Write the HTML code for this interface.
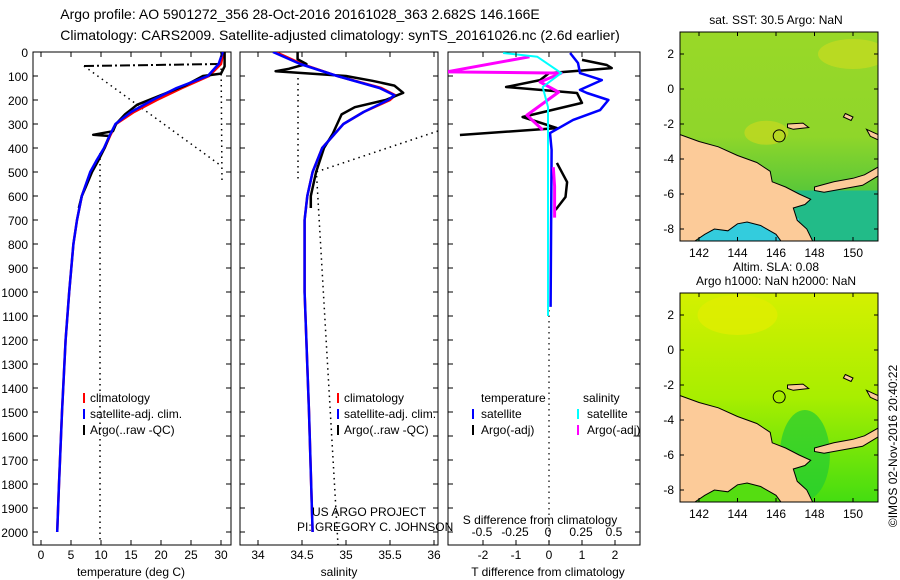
<!DOCTYPE html>
<html><head><meta charset="utf-8"><style>
body{margin:0;background:#fff;}
svg{display:block;font-family:"Liberation Sans",sans-serif;}
text{font-size:12px;fill:#000;}
</style></head><body>
<svg id="s" width="900" height="580" viewBox="0 0 900 580" xmlns="http://www.w3.org/2000/svg">
<defs>
<linearGradient id="g1" x1="0" y1="0" x2="0" y2="1"><stop offset="0" stop-color="#99d828"/><stop offset="0.5" stop-color="#8fd62a"/><stop offset="0.75" stop-color="#5cc838"/><stop offset="1" stop-color="#22bb77"/></linearGradient>
<linearGradient id="g2" x1="0" y1="0" x2="0" y2="1"><stop offset="0" stop-color="#d4f000"/><stop offset="0.5" stop-color="#a8ee00"/><stop offset="1" stop-color="#44dd11"/></linearGradient>
<clipPath id="c1"><rect x="680" y="32" width="198" height="209"/></clipPath>
<clipPath id="c2"><rect x="680" y="293" width="198" height="209"/></clipPath>
<clipPath id="cp1"><rect x="33" y="52" width="198" height="493"/></clipPath>
<clipPath id="cp2"><rect x="240" y="52" width="198" height="493"/></clipPath>
<clipPath id="cp3"><rect x="448" y="52" width="192" height="493"/></clipPath>
</defs>
<text x="300" y="19" text-anchor="middle" style="font-size:14px">Argo profile: AO 5901272_356 28-Oct-2016 20161028_363 2.682S 146.166E</text>
<text x="340" y="40" text-anchor="middle" style="font-size:14px">Climatology: CARS2009. Satellite-adjusted climatology: synTS_20161026.nc (2.6d earlier)</text>
<g id="p1"></g>
<g id="p2"></g>
<g id="p3"></g>
<g id="m1"></g>
<g id="m2"></g>
<text transform="translate(897,446) rotate(-90)" text-anchor="middle">©IMOS 02-Nov-2016 20:40:22</text>
</svg>
<script>
// ---- data ----
const depthTicks=[0,100,200,300,400,500,600,700,800,900,1000,1100,1200,1300,1400,1500,1600,1700,1800,1900,2000];
const tTicks=[0,5,10,15,20,25,30];
const sTicks=[34,34.5,35,35.5,36];
const dTTicks=[-2,-1,0,1,2];
const dSTickLabels=["-0.5","-0.25","0","0.25","0.5"];
const climDepth=[0,50,100,150,200,250,300,350,400,450,500,600,700,800,1000,1200,1500,1800,2000];
const climTemp=[30.4,30.0,28.0,23.5,19.3,15.5,12.5,11.5,10.6,9.4,8.3,6.8,6.0,5.4,4.7,4.1,3.5,3.0,2.7];
const satTemp=[30.3,29.6,27.8,22.6,18.6,15.0,12.4,11.4,10.5,9.3,8.2,6.8,6.0,5.4,4.7,4.1,3.5,3.0,2.7];
const argoDepth=[0,40,60,90,100,140,180,220,260,300,330,345,350,400,450,500,560,600,650];
const argoTemp=[30.6,30.6,30.6,30,27,24,20,16,14,12.5,12,8.7,11.4,10.6,9.6,8.5,7.5,6.8,6.3];
const sDepth=[0,50,100,150,180,200,250,300,350,400,500,600,700,1000,1500,2000];
const climSal=[34.2,34.5,34.9,35.4,35.56,35.5,35.2,34.97,34.85,34.73,34.62,34.56,34.53,34.53,34.58,34.62];
const satSal=[34.17,34.48,34.9,35.38,35.55,35.48,35.2,34.97,34.85,34.73,34.62,34.56,34.53,34.53,34.58,34.62];
const argoSDepth=[0,30,50,70,80,90,100,120,140,170,200,230,260,300,340,400,500,600,650];
const argoSal=[34.45,34.45,34.55,34.35,34.2,34.6,35.0,35.3,35.55,35.65,35.45,35.1,34.95,34.9,34.85,34.75,34.66,34.6,34.6];
const dtSatDepth=[4,46,88,117,158,171,200,242,283,338,408,1062];
const dtSat=[0.64,0.88,0.94,1.6,0.94,1.15,1.8,1.55,0.73,0.03,0.08,0.05];
const dtArgoDepth=[33,54,67,88,117,146,171,212,271,317,346,null,462,542,604,658];
const dtArgo=[1.0,1.75,1.9,0,-0.27,-1.3,0.85,1.0,-0.8,0.24,-2.7,null,0.24,0.55,0.5,0.2];
const dsSatDepth=[4,20,88,146,229,367,1100];
const dsSat=[-0.34,-0.08,0.1,-0.04,0,0,0];
const dsArgoDepth=[20,83,88,125,167,263,325,null,480,560,690];
const dsArgo=[-0.14,-0.77,0.1,-0.06,0.08,-0.16,-0.04,null,0.04,0.05,0.05];
const mapLatTicks=[2,0,-2,-4,-6,-8];
const mapLonTicks=[142,144,146,148,150];
const coast=[[141,-2.6],[142,-3.0],[143,-3.3],[144,-3.8],[145,-4.2],[145.7,-4.7],[145.8,-5.3],[146.5,-5.6],[147.2,-6.0],[147.8,-6.3],[147.5,-6.6],[146.9,-6.8],[147.1,-7.5],[147.6,-8.0],[148.0,-8.9],[146.4,-8.9],[146.0,-8.3],[145.2,-7.8],[144.5,-7.6],[144.0,-7.7],[143.5,-8.1],[142.8,-8.0],[142.3,-8.3],[141.9,-8.6],[141.5,-8.9],[141,-8.9]];
const newBritain=[[148.0,-5.6],[149,-5.3],[150,-5.1],[150.6,-4.9],[151.4,-4.4],[151.4,-4.9],[150.5,-5.5],[149.5,-5.7],[148.5,-5.9],[148.0,-5.8]];
const manus=[[146.6,-2.0],[147.4,-1.95],[147.7,-2.2],[146.9,-2.3],[146.6,-2.2]];
const island2=[[149.6,-1.4],[150.0,-1.6],[149.9,-1.8],[149.5,-1.6]];
const island3=[[150.7,-2.3],[151.3,-2.6],[151.3,-2.9],[150.9,-2.7]];
const argoPos=[146.166,-2.682];

const NS="http://www.w3.org/2000/svg";
function mk(p,t,a){const e=document.createElementNS(NS,t);for(const k in a)e.setAttribute(k,a[k]);p.appendChild(e);return e;}
const yD=d=>52+d*0.24;
const xT=t=>41+t*6;
const xS=s=>258+(s-34)*88;
const xDT=v=>549+v*33;
const xDS=v=>548+v*132;
function path(xs,ys,fx,fy){let s="",pen=false;for(let i=0;i<xs.length;i++){if(xs[i]===null||ys[i]===null){pen=false;continue;}s+=(pen?"L":"M")+fx(xs[i]).toFixed(1)+","+fy(ys[i]).toFixed(1);pen=true;}return s;}

function panel(g,x0,x1,clip){
  const r=mk(g,'rect',{x:x0,y:52,width:x1-x0,height:493,fill:'none',stroke:'#000','stroke-width':1});
  
  depthTicks.forEach(d=>{mk(g,'line',{x1:x0,x2:x0+5,y1:yD(d),y2:yD(d),stroke:'#000'});mk(g,'line',{x1:x1-5,x2:x1,y1:yD(d),y2:yD(d),stroke:'#000'});});
  const cg=mk(g,'g',{'clip-path':'url(#'+clip+')'});return cg;
}
function line(g,d,col,w,name,dash){const e=mk(g,'path',{d:d,fill:'none',stroke:col,'stroke-width':w,'stroke-linejoin':'round'});if(dash)e.setAttribute('stroke-dasharray',dash);return e;}
function txt(g,x,y,s,anchor,name){const e=mk(g,'text',{x:x,y:y,'text-anchor':anchor||'start'});e.textContent=s;return e;}
function leg(g,x,y,col){mk(g,'line',{x1:x,x2:x,y1:y-10,y2:y,stroke:col,'stroke-width':2});}

// panel 1
const p1=document.getElementById('p1');
depthTicks.forEach(d=>txt(p1,28,yD(d)+5,String(d),'end','depth-tick-label'));
const c1=panel(p1,33,231,'cp1');
tTicks.forEach(t=>{mk(p1,'line',{x1:xT(t),x2:xT(t),y1:52,y2:57,stroke:'#000'});mk(p1,'line',{x1:xT(t),x2:xT(t),y1:540,y2:545,stroke:'#000'});txt(p1,xT(t),559,String(t),'middle','temperature-tick-label');});
txt(p1,131,576,'temperature (deg C)','middle','temperature-axis-title');
line(c1,"M100,153L100,540",'#000',1.5,'dotted-line','1.5,4');
line(c1,"M84,66L220,165",'#000',1.5,'dotted-line','1.5,4');
line(c1,"M221,52L222,182",'#000',1.5,'dotted-line','1.5,4');
line(c1,"M84,66L222,64",'#000',2,'mixed-layer-line','10,3,2,3');
line(c1,path(climTemp,climDepth,xT,yD),'#f00',2.5,'climatology-temperature');
line(c1,path(argoTemp,argoDepth,xT,yD),'#000',2.5,'argo-temperature');
line(c1,path(satTemp,climDepth,xT,yD),'#00f',2.5,'satellite-temperature');
leg(p1,84,403,'#f00');txt(p1,90,402,'climatology','start','legend-climatology');
leg(p1,84,419,'#00f');txt(p1,90,418,'satellite-adj. clim.','start','legend-satellite');
leg(p1,84,435,'#000');txt(p1,90,434,'Argo(..raw -QC)','start','legend-argo');

// panel 2
const p2=document.getElementById('p2');
const c2=panel(p2,240,438,'cp2');
sTicks.forEach(s=>{mk(p2,'line',{x1:xS(s),x2:xS(s),y1:52,y2:57,stroke:'#000'});mk(p2,'line',{x1:xS(s),x2:xS(s),y1:540,y2:545,stroke:'#000'});txt(p2,xS(s),559,String(s),'middle','salinity-tick-label');});
txt(p2,339,576,'salinity','middle','salinity-axis-title');
line(c2,"M298,78L298,182",'#000',1.5,'dotted-line','1.5,4');
line(c2,"M438,131L316,172",'#000',1.5,'dotted-line','1.5,4');
line(c2,"M316,165L338,545",'#000',1.5,'dotted-line','1.5,4');
line(c2,path(climSal,sDepth,xS,yD),'#f00',2.5,'climatology-salinity');
line(c2,path(argoSal,argoSDepth,xS,yD),'#000',2.5,'argo-salinity');
line(c2,path(satSal,sDepth,xS,yD),'#00f',2.5,'satellite-salinity');
leg(p2,338,403,'#f00');txt(p2,344,402,'climatology','start','legend-climatology');
leg(p2,338,419,'#00f');txt(p2,344,418,'satellite-adj. clim.','start','legend-satellite');
leg(p2,338,435,'#000');txt(p2,344,434,'Argo(..raw -QC)','start','legend-argo');
txt(p2,312,516,'US ARGO PROJECT','start','project-label');
txt(p2,297,531,'PI: GREGORY C. JOHNSON','start','pi-label');

// panel 3
const p3=document.getElementById('p3');
const c3=panel(p3,448,640,'cp3');
dTTicks.forEach(v=>{mk(p3,'line',{x1:xDT(v),x2:xDT(v),y1:52,y2:57,stroke:'#000'});mk(p3,'line',{x1:xDT(v),x2:xDT(v),y1:540,y2:545,stroke:'#000'});txt(p3,xDT(v),559,String(v),'middle','t-diff-tick-label');});
dSTickLabels.forEach(v=>txt(p3,xDS(parseFloat(v)),536,v,'middle','s-diff-tick-label'));
txt(p3,540,524,'S difference from climatology','middle','s-diff-axis-title');
txt(p3,548,576,'T difference from climatology','middle','t-diff-axis-title');
line(c3,"M549,310L549,545",'#000',1.2,'zero-line','1.5,4');
line(c3,path(dtArgo,dtArgoDepth,xDT,yD),'#000',2.5,'argo-t-diff');
line(c3,path(dtSat,dtSatDepth,xDT,yD),'#00f',2.5,'satellite-t-diff');
line(c3,path(dsArgo,dsArgoDepth,xDS,yD),'#f0f',3,'argo-s-diff');
line(c3,path(dsSat,dsSatDepth,xDS,yD),'#0ff',2,'satellite-s-diff');
txt(p3,481,402,'temperature','start','legend-temperature');txt(p3,583,402,'salinity','start','legend-salinity');
leg(p3,473,419,'#00f');txt(p3,481,418,'satellite','start','legend-t-satellite');
leg(p3,473,435,'#000');txt(p3,481,434,'Argo(-adj)','start','legend-t-argo');
leg(p3,578,419,'#0ff');txt(p3,587,418,'satellite','start','legend-s-satellite');
leg(p3,578,435,'#f0f');txt(p3,587,434,'Argo(-adj)','start','legend-s-argo');

// maps
function map(id,y0,clip,grad,title){
  const g=document.getElementById(id);
  const lx=l=>699+(l-142)*19.25, ly=t=>y0+57-t*17.5;
  const cg=mk(g,'g',{'clip-path':'url(#'+clip+')'});
  mk(cg,'rect',{x:680,y:y0,width:198,height:209,fill:'url(#'+grad+')'});
  if(id==='m1'){
    mk(cg,'ellipse',{cx:lx(150),cy:ly(2),rx:35,ry:15,fill:'#c8dc20',opacity:0.7});
    mk(cg,'ellipse',{cx:lx(145.5),cy:ly(-2.5),rx:22,ry:12,fill:'#c8d820',opacity:0.7});
    mk(cg,'rect',{x:lx(146.5),y:ly(-5.8),width:120,height:120,fill:'#22bb88'});
    mk(cg,'rect',{x:lx(142),y:ly(-7.4),width:100,height:60,fill:'#33ccdd'});
  } else {
    mk(cg,'ellipse',{cx:lx(144),cy:ly(2),rx:40,ry:20,fill:'#e0ee00',opacity:0.8});
    mk(cg,'ellipse',{cx:lx(147.5),cy:ly(-6),rx:25,ry:45,fill:'#22cc33',opacity:0.7});
    mk(cg,'rect',{x:lx(142),y:ly(-7.4),width:100,height:60,fill:'#55dd11'});
  }
  const poly=pts=>pts.map(p=>lx(p[0]).toFixed(1)+','+ly(p[1]).toFixed(1)).join(' ');
  [coast,newBritain,manus,island2,island3].forEach(pts=>{const e=mk(cg,'polygon',{points:poly(pts),fill:'#fccb99',stroke:'#000','stroke-width':1});});
  const c=mk(cg,'circle',{cx:lx(argoPos[0]),cy:ly(argoPos[1]),r:6,fill:'none',stroke:'#000'});
  
  mk(g,'rect',{x:680,y:y0,width:198,height:209,fill:'none',stroke:'#000'});
  mapLatTicks.forEach(t=>{mk(g,'line',{x1:680,x2:684,y1:ly(t),y2:ly(t),stroke:'#000'});mk(g,'line',{x1:874,x2:878,y1:ly(t),y2:ly(t),stroke:'#000'});txt(g,674,ly(t)+4,String(t),'end','lat-tick-label');});
  mapLonTicks.forEach(l=>{mk(g,'line',{x1:lx(l),x2:lx(l),y1:y0,y2:y0+4,stroke:'#000'});mk(g,'line',{x1:lx(l),x2:lx(l),y1:y0+205,y2:y0+209,stroke:'#000'});txt(g,lx(l),y0+225,String(l),'middle','lon-tick-label');});
  title.forEach((s,i)=>txt(g,776,y0-(title.length-i)*14+6,s,'middle','map-title'));
}
map('m1',32,'c1','g1',['sat. SST: 30.5 Argo: NaN']);
map('m2',293,'c2','g2',['Altim. SLA: 0.08','Argo h1000: NaN h2000: NaN']);
</script>
</body></html>
